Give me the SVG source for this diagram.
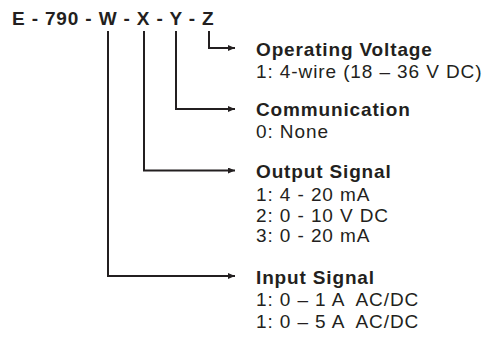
<svg xmlns="http://www.w3.org/2000/svg" width="489" height="340" viewBox="0 0 489 340">
  <style>
    text { font-family: "Liberation Sans", Arial, sans-serif; fill: #231f20; font-size: 19px; letter-spacing: 0.9px; white-space: pre; }
    .b { font-weight: bold; letter-spacing: 0.85px; }
    .ln { fill: none; stroke: #231f20; stroke-width: 2; }
  </style>
  <defs>
    <marker id="arr" markerWidth="8" markerHeight="7" refX="7" refY="3" orient="auto" markerUnits="userSpaceOnUse">
      <path d="M0,0 L7,3 L0,6 z" fill="#231f20"/>
    </marker>
  </defs>
  <rect width="489" height="340" fill="#ffffff"/>
  <g id="title">
    <text class="b" x="12" y="24.5">E - 790 - W - X - Y - Z</text>
  </g>
  <g id="connectors">
    <path class="ln" d="M209,31 V48 H235" marker-end="url(#arr)"/>
    <path class="ln" d="M176,31 V109 H235" marker-end="url(#arr)"/>
    <path class="ln" d="M144,31 V170.5 H235" marker-end="url(#arr)"/>
    <path class="ln" d="M108,31 V276 H235" marker-end="url(#arr)"/>
  </g>
  <g id="operating-voltage">
    <text class="b" x="256" y="56">Operating Voltage</text>
    <text x="256" y="78">1: 4-wire (18 – 36 V DC)</text>
  </g>
  <g id="communication">
    <text class="b" x="256" y="115.5">Communication</text>
    <text x="256" y="138">0: None</text>
  </g>
  <g id="output-signal">
    <text class="b" x="256" y="178">Output Signal</text>
    <text x="256" y="201">1: 4 - 20 mA</text>
    <text x="256" y="221.5">2: 0 - 10 V DC</text>
    <text x="256" y="241.5">3: 0 - 20 mA</text>
  </g>
  <g id="input-signal">
    <text class="b" x="256" y="283.5">Input Signal</text>
    <text x="256" y="306">1: 0 – 1 A  AC/DC</text>
    <text x="256" y="327.5">1: 0 – 5 A  AC/DC</text>
  </g>
</svg>
